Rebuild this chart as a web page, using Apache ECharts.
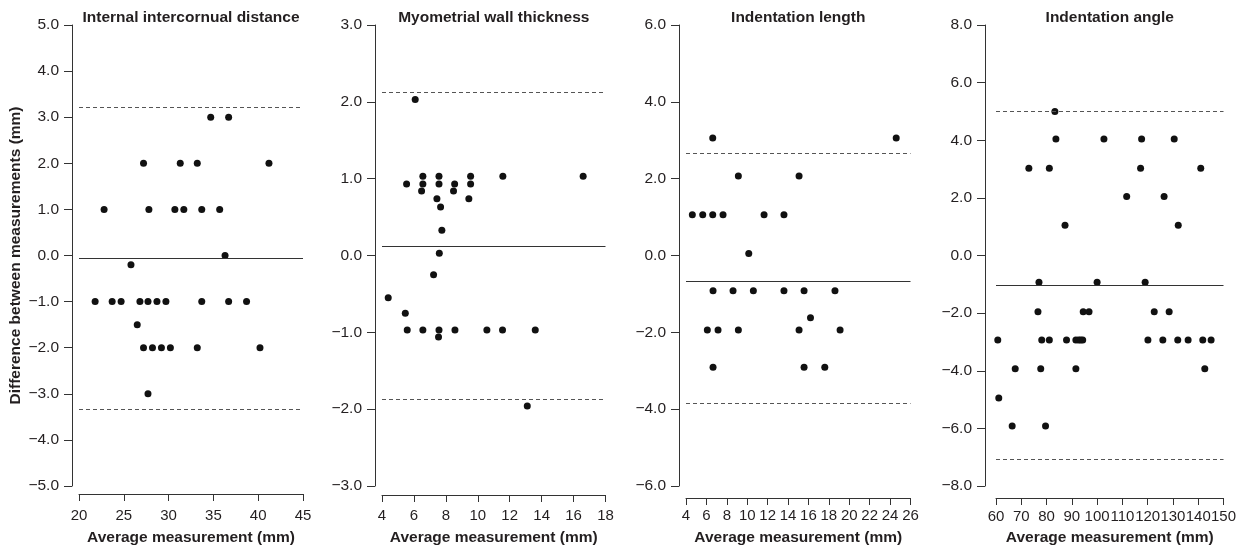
<!DOCTYPE html>
<html>
<head>
<meta charset="utf-8">
<script src="https://cdn.jsdelivr.net/npm/echarts@6/dist/echarts.min.js"></script>
<style>
  html, body { margin: 0; padding: 0; background: #fff; }
  #chart { width: 1242px; height: 551px; }
</style>
</head>
<body>
<div id="chart"></div>
<script>
// panel titles
const titles = [
  "Internal intercornual distance",
  "Myometrial wall thickness",
  "Indentation length",
  "Indentation angle"
];

// Internal intercornual distance
const iidX = [22.8, 27.8, 30.7, 31.7, 33.7, 35.7, 27.2, 31.3, 33.2, 41.2, 34.7, 36.7, 25.8, 36.3,
  21.8, 23.7, 24.7, 26.8, 27.7, 28.7, 29.7, 33.7, 36.7, 38.7, 26.5,
  27.2, 28.2, 29.2, 30.2, 33.2, 40.2, 27.7];
const iidY = [1.0, 1.0, 1.0, 1.0, 1.0, 1.0, 2.0, 2.0, 2.0, 2.0, 3.0, 3.0, -0.2, 0.0,
  -1.0, -1.0, -1.0, -1.0, -1.0, -1.0, -1.0, -1.0, -1.0, -1.0, -1.5,
  -2.0, -2.0, -2.0, -2.0, -2.0, -2.0, -3.0];
const iidLines = [3.21, -0.06, -3.34]; // upper limit, mean, lower limit

// Myometrial wall thickness
const mwtX = [6.08, 5.54, 6.56, 6.56, 6.48, 7.57, 7.57, 7.44, 7.67, 7.75, 7.59, 7.23,
  8.55, 8.48, 9.55, 9.55, 9.44, 11.57, 16.6,
  4.39, 5.46, 5.58, 6.56, 7.57, 7.54, 8.57, 10.57, 11.55, 13.6, 13.1];
const mwtY = [2.03, 0.93, 1.03, 0.93, 0.84, 1.03, 0.93, 0.74, 0.63, 0.33, 0.03, -0.25,
  0.93, 0.84, 1.03, 0.93, 0.74, 1.03, 1.03,
  -0.55, -0.75, -0.97, -0.97, -0.97, -1.06, -0.97, -0.97, -0.97, -0.97, -1.96];
const mwtLines = [2.12, 0.12, -1.87];

// Indentation length
const ilX = [6.62, 24.6, 9.13, 15.08, 4.62, 5.64, 6.62, 7.63, 11.65, 13.6, 10.15,
  6.65, 8.61, 10.6, 13.6, 15.57, 18.6, 16.2,
  6.09, 7.14, 9.13, 15.08, 19.1, 6.65, 15.57, 17.6];
const ilY = [3.06, 3.06, 2.07, 2.07, 1.06, 1.06, 1.06, 1.06, 1.06, 1.06, 0.05,
  -0.92, -0.92, -0.92, -0.92, -0.92, -0.92, -1.62,
  -1.94, -1.94, -1.94, -1.94, -1.94, -2.91, -2.91, -2.91];
const ilLines = [2.66, -0.68, -3.84];

// Indentation angle
const iaX = [83.3, 83.7, 102.7, 117.6, 130.5, 73.0, 81.1, 117.2, 141.0, 111.7, 126.5, 87.3, 132.1,
  77.0, 100.0, 119.0, 76.6, 94.5, 96.8, 122.6, 128.5,
  60.7, 78.1, 81.1, 87.9, 91.6, 92.7, 93.5, 94.3, 120.1, 126.0, 131.9, 136.0, 141.8, 145.1,
  67.6, 77.7, 91.6, 142.6, 61.1, 66.4, 79.6];
const iaY = [5.0, 4.04, 4.04, 4.04, 4.04, 3.03, 3.03, 3.03, 3.03, 2.05, 2.05, 1.05, 1.05,
  -0.93, -0.93, -0.93, -1.95, -1.95, -1.95, -1.95, -1.95,
  -2.93, -2.93, -2.93, -2.93, -2.93, -2.93, -2.93, -2.93, -2.93, -2.93, -2.93, -2.93, -2.93, -2.93,
  -3.93, -3.93, -3.93, -3.93, -4.95, -5.92, -5.92];
const iaLines = [4.99, -1.02, -7.06];

// axis ranges [min, max, interval]
const xRanges = [[20, 45, 5], [4, 18, 2], [4, 26, 2], [60, 150, 10]];
const yRanges = [[-5, 5, 1], [-3, 3, 1], [-6, 6, 2], [-8, 8, 2]];

const xs = [iidX, mwtX, ilX, iaX];
const ys = [iidY, mwtY, ilY, iaY];
const lines = [iidLines, mwtLines, ilLines, iaLines];

const ink = "#231f20";
const font = "Liberation Sans, Arial, sans-serif";

// plot areas
const grids = [
  { left: 79, top: 25, width: 224, height: 461 },
  { left: 382, top: 25, width: 223.5, height: 461 },
  { left: 686, top: 25, width: 224.5, height: 461 },
  { left: 996, top: 25, width: 227.5, height: 461 },
];
const yOffsets = [7, 7, 7, 11];
const xOffsets = [8, 9, 12, 12];
const xLabelMargin = [14, 13, 10, 11];
const xNameGap = [36, 35, 32, 32];

const chart = echarts.init(document.getElementById("chart"));

const fmt = (v) => v.toFixed(1).replace("-", "\u2212");

const option = {
  animation: false,
  backgroundColor: "#fff",
  title: titles.map((t, i) => ({
    text: t,
    left: grids[i].left + grids[i].width / 2,
    top: 10,
    textAlign: "center",
    padding: 0,
    textStyle: { fontFamily: font, fontSize: 15.5, fontWeight: "bold", color: ink },
  })),
  grid: grids.map((g) => ({ ...g, outerBoundsMode: "none" })),
  xAxis: xRanges.map((r, i) => ({
    type: "value",
    gridIndex: i,
    min: r[0],
    max: r[1],
    interval: r[2],
    offset: xOffsets[i],
    name: "Average measurement (mm)",
    nameLocation: "middle",
    nameGap: xNameGap[i],
    nameTextStyle: { fontFamily: font, fontSize: 15.5, fontWeight: "bold", color: ink },
    splitLine: { show: false },
    axisLine: { show: true, onZero: false, lineStyle: { color: "#333", width: 1 } },
    axisTick: { show: true, length: 7, lineStyle: { color: "#333" } },
    axisLabel: {
      fontFamily: font, fontSize: 15, color: ink,
      margin: xLabelMargin[i], hideOverlap: false, showMinLabel: true, showMaxLabel: true,
    },
  })),
  yAxis: yRanges.map((r, i) => ({
    type: "value",
    gridIndex: i,
    min: r[0],
    max: r[1],
    interval: r[2],
    offset: yOffsets[i],
    name: i === 0 ? "Difference between measurements (mm)" : "",
    nameLocation: "middle",
    nameGap: 48,
    nameTextStyle: { fontFamily: font, fontSize: 15.5, fontWeight: "bold", color: ink },
    splitLine: { show: false },
    axisLine: { show: true, onZero: false, lineStyle: { color: "#333", width: 1 } },
    axisTick: { show: true, length: 8, lineStyle: { color: "#333" } },
    axisLabel: {
      fontFamily: font, fontSize: 15.5, color: ink, margin: 13,
      formatter: fmt, hideOverlap: false,
    },
  })),
  series: xs.map((xArr, i) => ({
    type: "scatter",
    xAxisIndex: i,
    yAxisIndex: i,
    symbolSize: 7,
    itemStyle: { color: "#111", opacity: 1 },
    data: xArr.map((x, k) => [x, ys[i][k]]),
    markLine: {
      silent: true,
      symbol: "none",
      label: { show: false },
      data: [
        { yAxis: lines[i][0], lineStyle: { type: [4, 3], color: "#555", width: 1 } },
        { yAxis: lines[i][1], lineStyle: { type: "solid", color: "#333", width: 1 } },
        { yAxis: lines[i][2], lineStyle: { type: [4, 3], color: "#555", width: 1 } },
      ],
    },
  })),
};

chart.setOption(option);
</script>
</body>
</html>
